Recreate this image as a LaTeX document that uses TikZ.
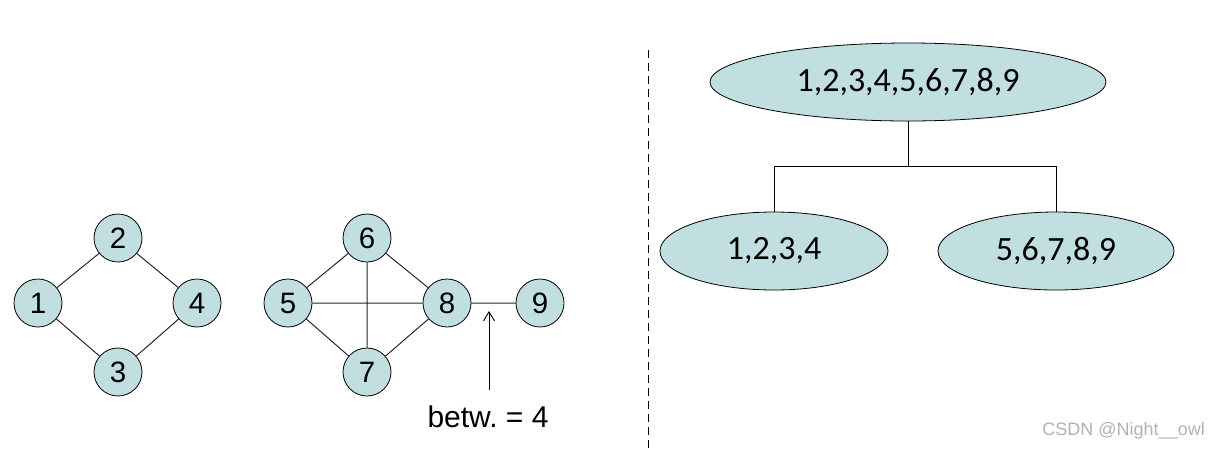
\documentclass[tikz,border=0pt]{standalone}
\usepackage{fontspec}
\setmainfont{Liberation Sans}
\newfontfamily\carlitofont{Carlito}
\usetikzlibrary{shapes.geometric,arrows.meta,backgrounds}
\definecolor{nodefill}{RGB}{193,223,225}
\definecolor{edgegray}{RGB}{40,40,40}
\begin{document}
\begin{tikzpicture}[x=1pt,y=-1pt,
  vtx/.style={circle,draw=black,line width=0.8pt,fill=nodefill,minimum size=48pt,inner sep=0pt,font=\fontsize{29.5}{30}\selectfont},
  cluster/.style={ellipse,draw=black,line width=0.8pt,fill=nodefill,minimum height=78pt,inner sep=0pt,font=\carlitofont\fontsize{34}{36}\selectfont},
  edge/.style={draw=edgegray,line width=1pt},
  tree/.style={draw=black,line width=0.9pt}]
\useasboundingbox (0,0) rectangle (1216,451);
% left graph
\node[vtx] (n1) at (38,303) {1};
\node[vtx] (n2) at (118,238) {2};
\node[vtx] (n3) at (118,372) {3};
\node[vtx] (n4) at (197,303) {4};
\node[vtx] (n5) at (288,303) {5};
\node[vtx] (n6) at (367,238) {6};
\node[vtx] (n7) at (367,372) {7};
\node[vtx] (n8) at (447,303) {8};
\node[vtx] (n9) at (540,303) {9};
\begin{scope}[on background layer]
\fill[white] (0,0) rectangle (1216,451);
\path[edge] (n1) -- (n2) (n2) -- (n4) (n1) -- (n3) (n3) -- (n4);
\path[edge] (n5) -- (n6) (n5) -- (n8) (n5) -- (n7) (n6) -- (n7) (n6) -- (n8) (n7) -- (n8) (n8) -- (n9);
\end{scope}
% betweenness label
\node[anchor=base,font=\fontsize{30}{32}\selectfont,inner sep=0pt] (lbl) at (488,427) {betw.\ = 4};
\coordinate (tail) at (489,390);
\coordinate (tip) at (489,311);
\draw[line width=0.9pt,-{Straight Barb[length=9pt,width=11pt]}] (tail) -- (tip);
% divider
\draw[line width=0.9pt,dash pattern=on 8pt off 5pt] (648,50) -- (648,451);
% tree
\node[cluster,minimum width=396pt] (top) at (908,82) {1,2,3,4,5,6,7,8,9};
\node[cluster,minimum width=228pt] (left) at (774,251) {1,2,3,4};
\node[cluster,minimum width=236pt] (right) at (1056,251) {5,6,7,8,9};
\draw[tree] (top.south) -- ++(0,45) -| (left.north);
\draw[tree] (top.south) -- ++(0,45) -| (right.north);
% watermark
\node[anchor=east,text=black!30,font=\fontsize{18}{19}\selectfont,inner sep=0pt] (wm) at (1205,431) {CSDN @Night\_\kern-1pt\_owl};
\end{tikzpicture}
\end{document}
